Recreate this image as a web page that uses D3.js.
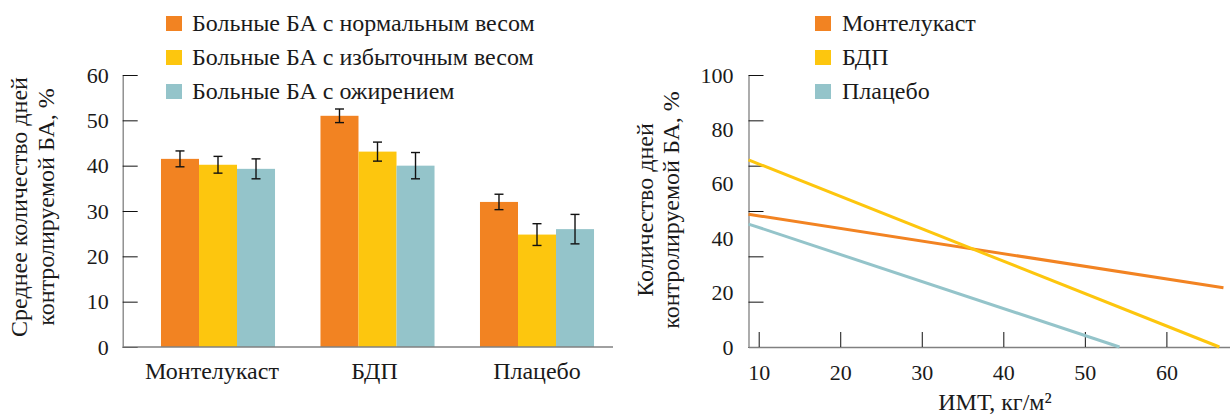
<!DOCTYPE html>
<html>
<head>
<meta charset="utf-8">
<script src="https://cdn.jsdelivr.net/npm/d3@7"></script>
<style>
  html, body { margin: 0; padding: 0; background: #fff; }
  svg { display: block; }
  svg text { font-family: "Liberation Serif", "Times New Roman", Times, "DejaVu Serif", serif; fill: #1a1a1a; }
</style>
</head>
<body>
<svg id="chart" width="1230" height="415"></svg>
<script>
// ---- Data: mean share of controlled-asthma days by treatment and weight group ----
const treatments = ["Монтелукаст", "БДП", "Плацебо"];
const weightGroups = ["Больные БА с нормальным весом", "Больные БА с избыточным весом", "Больные БА с ожирением"];
const normalWeight = [41.5, 51.0, 32.0];
const overweight   = [40.2, 43.1, 24.8];
const obese        = [39.3, 40.0, 26.0];
const normalErr    = [1.75, 1.5, 1.7];
const overweightErr= [1.85, 2.1, 2.4];
const obeseErr     = [2.2, 2.9, 3.25];
const barTicks = [0, 10, 20, 30, 40, 50, 60];

// ---- Data: regression of controlled days on BMI (endpoints of each fitted line) ----
const lineNames = ["Монтелукаст", "БДП", "Плацебо"];
const montelukastFit = [[8.75, 48.8], [67.0, 21.8]];
const bdpFit         = [[8.75, 68.8], [66.5, 0]];
const placeboFit     = [[8.75, 45.2], [54.25, 0]];
const bmiTicks = [10, 20, 30, 40, 50, 60];
const daysTicks = [0, 20, 40, 60, 80, 100];

const colors = ["#f28322", "#fdc60e", "#94c4ca"];
const FONT = "'Liberation Serif', 'Times New Roman', Times, 'DejaVu Serif', serif";
const LABEL = 24, TICK = 22;
const svg = d3.select("#chart");

function styleText(sel, size) {
  sel.style("font-size", size + "px").style("font-family", FONT).attr("fill", "#1a1a1a");
  return sel;
}

// ================= Left panel: grouped bars =================
const yL = d3.scaleLinear().domain([0, 60]).range([347, 75]);
const xG = d3.scaleBand().domain(treatments).range([138.25, 616.75])
  .paddingInner(0.285).paddingOuter(0.1425);
const xS = d3.scaleBand().domain(d3.range(3)).range([0, xG.bandwidth()]);

const series = [normalWeight, overweight, obese];
const seriesErr = [normalErr, overweightErr, obeseErr];

const left = svg.append("g");

treatments.forEach((t, i) => {
  const g = left.append("g").attr("transform", `translate(${xG(t)},0)`);
  series.forEach((vals, s) => {
    g.append("rect")
      .attr("x", xS(s)).attr("width", xS.bandwidth())
      .attr("y", yL(vals[i])).attr("height", yL(0) - yL(vals[i]))
      .attr("fill", colors[s]);
  });
  series.forEach((vals, s) => {
    const cx = xS(s) + xS.bandwidth() / 2;
    const lo = yL(vals[i] - seriesErr[s][i]);
    const hi = yL(vals[i] + seriesErr[s][i]);
    const eb = g.append("g").attr("stroke", "#111").attr("stroke-width", 1.4);
    eb.append("line").attr("x1", cx).attr("x2", cx).attr("y1", lo).attr("y2", hi);
    eb.append("line").attr("x1", cx - 4.5).attr("x2", cx + 4.5).attr("y1", lo).attr("y2", lo);
    eb.append("line").attr("x1", cx - 4.5).attr("x2", cx + 4.5).attr("y1", hi).attr("y2", hi);
  });
});

// y axis (ticks point inward)
const yAxisL = left.append("g").attr("transform", "translate(122.7,0)")
  .call(d3.axisLeft(yL).tickValues(barTicks).tickSizeInner(-15).tickSizeOuter(0).tickPadding(14));
yAxisL.select(".domain").attr("stroke", "#808080").attr("stroke-width", 1.3);
yAxisL.selectAll(".tick line").attr("stroke", "#111");
styleText(yAxisL.selectAll("text"), TICK);

// x axis baseline and category labels
const xAxisL = left.append("g").attr("transform", "translate(0,347)");
xAxisL.append("line").attr("x1", 122.7).attr("x2", 613).attr("stroke", "#808080").attr("stroke-width", 1.3);
treatments.forEach(t => {
  styleText(xAxisL.append("text")
    .attr("x", xG(t) + xG.bandwidth() / 2 - (t === "Монтелукаст" ? 6 : t === "БДП" ? 3 : 0))
    .attr("y", 32).attr("text-anchor", "middle"), LABEL).text(t);
});

// y title
const yTitleL = left.append("g").attr("transform", "translate(0,207) rotate(-90)");
styleText(yTitleL.append("text").attr("x", 0).attr("y", 27).attr("text-anchor", "middle"), LABEL)
  .text("Среднее количество дней");
styleText(yTitleL.append("text").attr("x", 0).attr("y", 53.5).attr("text-anchor", "middle"), LABEL)
  .text("контролируемой БА, %");

// legend
const legL = left.append("g");
weightGroups.forEach((name, i) => {
  const row = legL.append("g").attr("transform", `translate(166,${31 + i * 34})`);
  row.append("rect").attr("x", 0).attr("y", -15).attr("width", 16).attr("height", 15).attr("fill", colors[i]);
  styleText(row.append("text").attr("x", 26).attr("y", 0), LABEL).text(name);
});

// ================= Right panel: fitted lines vs BMI =================
const right = svg.append("g");
const xR = d3.scaleLinear().domain([8.75, 67.8]).range([748.5, 1230]);
const yR = d3.scaleLinear().domain([0, 100]).range([347, 75]);
// tick marks on the value axis divide it into six equal steps
const yMarks = d3.scaleLinear().domain([0, 6]).range([347, 75]);

const yAxisR = right.append("g").attr("transform", "translate(748.5,0)")
  .call(d3.axisLeft(yR).tickValues(daysTicks).tickSize(0).tickPadding(15));
yAxisR.select(".domain").attr("stroke", "#808080").attr("stroke-width", 1.3);
styleText(yAxisR.selectAll("text"), TICK);

const yMarksR = right.append("g").attr("transform", "translate(748.5,0)")
  .call(d3.axisLeft(yMarks).ticks(6).tickSizeInner(-15).tickSizeOuter(0).tickFormat(""));
yMarksR.select(".domain").remove();
yMarksR.selectAll(".tick line").attr("stroke", "#111");

const xAxisR = right.append("g").attr("transform", "translate(0,347)")
  .call(d3.axisBottom(xR).tickValues(bmiTicks).tickSizeInner(-15).tickSizeOuter(0).tickPadding(17));
xAxisR.select(".domain").attr("stroke", "#808080").attr("stroke-width", 1.3);
xAxisR.selectAll(".tick line").attr("stroke", "#111");
styleText(xAxisR.selectAll("text"), TICK);

styleText(right.append("text").attr("x", 995).attr("y", 410).attr("text-anchor", "middle"), LABEL)
  .text("ИМТ, кг/м²");

const yTitleR = right.append("g").attr("transform", "translate(0,210) rotate(-90)");
styleText(yTitleR.append("text").attr("x", 0).attr("y", 653.3).attr("text-anchor", "middle"), LABEL)
  .text("Количество дней");
styleText(yTitleR.append("text").attr("x", 0).attr("y", 679.3).attr("text-anchor", "middle"), LABEL)
  .text("контролируемой БА, %");

const line = d3.line().x(d => xR(d[0])).y(d => yR(d[1]));
[montelukastFit, bdpFit, placeboFit].forEach((pts, i) => {
  right.append("path").datum(pts).attr("d", line)
    .attr("fill", "none").attr("stroke", colors[i]).attr("stroke-width", 3);
});

const legR = right.append("g");
lineNames.forEach((name, i) => {
  const row = legR.append("g").attr("transform", `translate(815,${31 + i * 34})`);
  row.append("rect").attr("x", 0).attr("y", -15).attr("width", 16).attr("height", 15).attr("fill", colors[i]);
  styleText(row.append("text").attr("x", 27).attr("y", 0), LABEL).text(name);
});
</script>
</body>
</html>
